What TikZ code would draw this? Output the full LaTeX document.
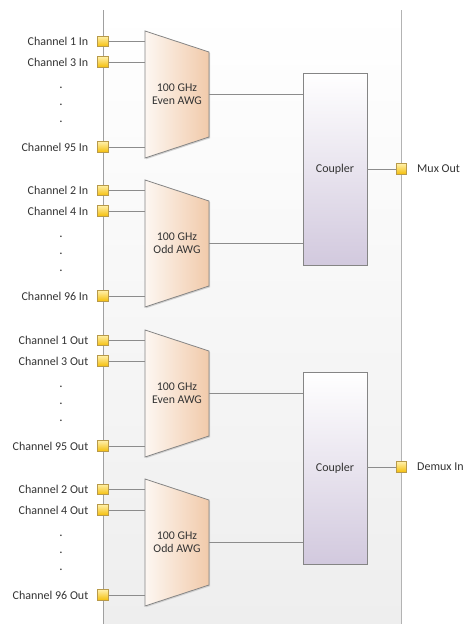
\documentclass[tikz,border=0pt]{standalone}
\usepackage{fontspec}
\setmainfont{Carlito}
\usetikzlibrary{calc}
\definecolor{wirec}{HTML}{8C8C8C}
\definecolor{framec}{HTML}{A0A0A0}
\definecolor{edgec}{HTML}{858585}
\definecolor{peachL}{HTML}{FDF7F2}
\definecolor{peachR}{HTML}{F1CAAA}
\definecolor{lavB}{HTML}{D2C9DE}
\definecolor{portT}{HTML}{FFEFA6}
\definecolor{portB}{HTML}{F4BE0A}
\definecolor{portE}{HTML}{B89A4A}
\definecolor{bgB}{HTML}{EEEEEE}
\definecolor{txt}{HTML}{333333}
\tikzset{
  wire/.style={draw=wirec, line width=0.8pt},
  portbox/.style={rectangle, minimum size=10.5pt, inner sep=0pt, draw=portE, line width=0.6pt, top color=portT, bottom color=portB},
  lbl/.style={anchor=east, inner sep=0pt, text=txt},
  rlbl/.style={anchor=west, inner sep=0pt, text=txt},
  dotlbl/.style={inner sep=0pt, text=txt, font=\fontsize{13}{14}\selectfont},
  awgtext/.style={align=center, inner sep=0pt, text=txt, font=\fontsize{11.8}{13}\selectfont},
  couplerbox/.style={rectangle, draw=edgec, line width=0.8pt, top color=white, bottom color=lavB, minimum width=64pt, minimum height=192pt, inner sep=0pt, text=txt},
}
\newcommand\awgblock[6]{%
  \coordinate (#1-tl) at (145,#2);
  \coordinate (#1-bl) at (145,#2+127);
  \coordinate (#1-tr) at (209,#2+21);
  \coordinate (#1-br) at (209,#2+106);
  \coordinate (#1-out) at (209,#2+63.5);
  \fill[gray!35] ($(#1-tl)+(1.2,1.2)$) -- ($(#1-tr)+(1.2,1.2)$) -- ($(#1-br)+(1.2,1.2)$) -- ($(#1-bl)+(1.2,1.2)$) -- cycle;
  \shade[left color=peachL, right color=peachR] (#1-tl) -- (#1-tr) -- (#1-br) -- (#1-bl) -- cycle;
  \draw[edgec, line width=0.8pt, line join=miter] (#1-tl) -- (#1-tr) -- (#1-br) -- (#1-bl) -- cycle;
  \node[awgtext] (#1) at (177,#2+63.5) {100 GHz\\#6};
  \node[portbox] (#1-p1) at (103,#2+10.5) {};
  \node[portbox] (#1-p2) at (103,#2+31) {};
  \node[portbox] (#1-p3) at (103,#2+116) {};
  \draw[wire] (#1-p1) -- (#1-p1 -| #1-tl);
  \draw[wire] (#1-p2) -- (#1-p2 -| #1-tl);
  \draw[wire] (#1-p3) -- (#1-p3 -| #1-tl);
  \node[lbl] (#1-l1) at (88.5,#2+10.5) {#3};
  \node[lbl] (#1-l2) at (88.5,#2+31) {#4};
  \node[lbl] (#1-l3) at (88.5,#2+116) {#5};
  \node[dotlbl] (#1-d1) at (61,#2+57) {.};
  \node[dotlbl] (#1-d2) at (61,#2+74) {.};
  \node[dotlbl] (#1-d3) at (61,#2+91) {.};
}
\begin{document}
\begin{tikzpicture}[x=1pt,y=-1pt, font=\fontsize{12}{13.5}\selectfont]
\useasboundingbox (0,0) rectangle (466,624);
% container
\shade[top color=white, bottom color=bgB] (103,10) rectangle (401.5,624);
\draw[framec, line width=0.9pt] (103,10) -- (103,624);
\draw[framec!80, line width=1.2pt] (401.5,10) -- (401.5,624);
% couplers
\node[couplerbox] (c1) at (335,169) {Coupler};
\node[couplerbox] (c2) at (335,468) {Coupler};
% AWG blocks
\awgblock{a1}{31}{Channel 1 In}{Channel 3 In}{Channel 95 In}{Even AWG}
\awgblock{a2}{180}{Channel 2 In}{Channel 4 In}{Channel 96 In}{Odd AWG}
\awgblock{a3}{330}{Channel 1 Out}{Channel 3 Out}{Channel 95 Out}{Even AWG}
\awgblock{a4}{479}{Channel 2 Out}{Channel 4 Out}{Channel 96 Out}{Odd AWG}
% AWG to coupler
\draw[wire] (a1-out) -- (a1-out -| c1.west);
\draw[wire] (a2-out) -- (a2-out -| c1.west);
\draw[wire] (a3-out) -- (a3-out -| c2.west);
\draw[wire] (a4-out) -- (a4-out -| c2.west);
% outputs
\node[portbox] (mux) at (401.5,169) {};
\node[portbox] (demux) at (401.5,467) {};
\draw[wire] (c1.east |- mux) -- (mux);
\draw[wire] (c2.east |- demux) -- (demux);
\node[rlbl] (muxl) at (417,169) {Mux Out};
\node[rlbl] (demuxl) at (417,467) {Demux In};
\end{tikzpicture}
\end{document}
